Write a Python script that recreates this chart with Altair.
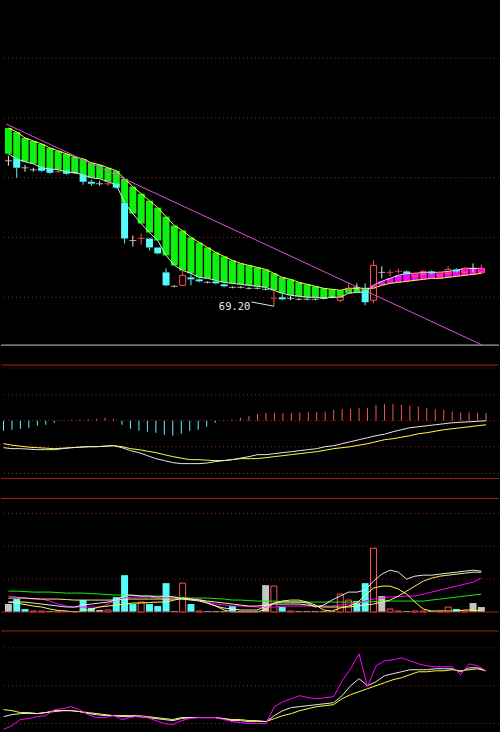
import altair as alt
import numpy as np
import pandas as pd

# ---------------- daily price bars ----------------
opens = [83.8, 84.0, 83.1, 82.9, 83.1, 83.0, 82.7, 82.8, 82.6, 82.4,
         81.7, 81.5, 81.5, 81.5, 79.6, 75.8, 76.0, 76.0, 75.1, 72.6,
         71.2, 71.3, 72.1, 71.9, 71.6, 71.7, 71.4, 71.1, 71.1, 71.0,
         71.0, 70.9, 70.0, 70.1, 70.0, 69.9, 69.9, 69.9, 70.0, 70.1,
         69.8, 71.0, 71.1, 70.8, 69.8, 72.6, 72.6, 72.7, 72.7, 72.2,
         72.4, 72.7, 72.3, 72.5, 72.9, 72.6, 73.0, 72.6]
highs = [84.3, 84.0, 83.4, 83.1, 83.3, 83.0, 82.9, 82.9, 82.7, 82.4,
         81.9, 81.8, 81.8, 81.5, 79.6, 76.3, 76.5, 76.0, 75.1, 73.0,
         71.3, 72.9, 72.4, 72.0, 71.7, 71.8, 71.5, 71.2, 71.2, 71.1,
         71.1, 71.0, 70.8, 70.4, 70.2, 70.0, 70.0, 70.0, 70.1, 70.2,
         70.2, 71.5, 71.5, 71.5, 73.8, 73.2, 72.9, 73.0, 72.8, 72.6,
         72.8, 72.8, 72.7, 73.2, 73.0, 73.1, 73.5, 73.4]
lows = [83.3, 82.1, 82.7, 82.7, 82.7, 82.5, 82.6, 82.4, 82.5, 81.4,
        81.3, 81.3, 81.3, 81.0, 75.5, 75.2, 75.4, 74.8, 74.4, 71.2,
        71.1, 71.3, 71.3, 71.6, 71.5, 71.4, 71.1, 71.0, 71.0, 70.9,
        70.9, 70.8, 69.2, 69.8, 69.8, 69.8, 69.8, 69.8, 69.9, 70.0,
        69.6, 70.6, 70.8, 69.3, 69.5, 72.0, 72.2, 72.5, 72.4, 72.1,
        72.3, 72.4, 72.2, 72.4, 72.6, 72.5, 72.6, 72.5]
closes = [83.8, 83.1, 83.1, 82.9, 82.8, 82.6, 82.7, 82.5, 82.6, 81.7,
          81.5, 81.5, 81.5, 81.1, 76.0, 75.8, 76.0, 75.1, 74.5, 71.3,
          71.2, 72.3, 71.9, 71.7, 71.6, 71.5, 71.2, 71.1, 71.1, 71.0,
          71.0, 70.9, 70.0, 69.9, 70.0, 69.9, 69.9, 69.9, 70.0, 70.1,
          70.1, 71.0, 71.1, 69.6, 73.3, 72.6, 72.6, 72.7, 72.5, 72.5,
          72.7, 72.5, 72.6, 72.9, 72.7, 73.0, 73.0, 73.0]
# d = falling, u = rising, w = flat (white), r = flat (red)
kinds = ["w", "d", "w", "w", "d", "d", "r", "d", "w", "d",
         "d", "w", "r", "d", "d", "w", "r", "d", "d", "d",
         "w", "u", "d", "d", "w", "d", "d", "w", "w", "w",
         "w", "w", "r", "d", "w", "w", "w", "w", "w", "w",
         "u", "r", "w", "d", "u", "w", "r", "r", "d", "u",
         "u", "d", "u", "u", "d", "u", "w", "u"]
ma_slow = [87.1, 86.7, 86.1, 85.8, 85.5, 85.1, 84.8, 84.5, 84.2, 84.0,
           83.6, 83.4, 83.1, 82.8, 82.0, 81.2, 80.5, 79.8, 79.1, 78.2,
           77.3, 76.8, 76.1, 75.6, 75.1, 74.6, 74.2, 73.8, 73.5, 73.3,
           73.1, 72.9, 72.5, 72.1, 71.9, 71.6, 71.4, 71.2, 71.0, 70.9,
           70.8, 71.0, 71.0, 71.0, 71.0, 71.3, 71.5, 71.6, 71.7, 71.8,
           71.9, 72.0, 72.0, 72.1, 72.2, 72.3, 72.4, 72.5]
ma_fast = [84.5, 84.0, 83.7, 83.5, 83.1, 83.0, 82.9, 82.7, 82.6, 82.4,
           82.1, 82.0, 81.7, 81.4, 79.6, 78.5, 77.5, 76.6, 75.8, 74.3,
           73.3, 72.8, 72.5, 72.1, 72.0, 71.8, 71.6, 71.5, 71.4, 71.3,
           71.2, 71.1, 70.8, 70.5, 70.3, 70.2, 70.1, 70.1, 70.0, 70.1,
           70.1, 70.5, 70.6, 70.6, 71.3, 71.7, 72.0, 72.3, 72.5, 72.5,
           72.6, 72.6, 72.6, 72.7, 72.8, 73.0, 73.0, 73.0]
# descending trend line (bar index, price)
trend_i = [-0.29, 57.12]
trend_p = [87.5, 65.3]
price_grid = [94.1, 88.1, 82.1, 76.1, 70.1]

# ---------------- MACD ----------------
dif = [-0.27, -0.28, -0.28, -0.285, -0.29, -0.29, -0.29, -0.28, -0.27, -0.265,
       -0.26, -0.26, -0.255, -0.25, -0.27, -0.30, -0.32, -0.35, -0.38, -0.40,
       -0.42, -0.43, -0.43, -0.43, -0.425, -0.41, -0.40, -0.39, -0.375, -0.36,
       -0.34, -0.34, -0.33, -0.32, -0.31, -0.30, -0.29, -0.28, -0.26, -0.25,
       -0.23, -0.21, -0.19, -0.17, -0.15, -0.135, -0.11, -0.09, -0.07, -0.06,
       -0.05, -0.04, -0.03, -0.02, -0.015, -0.01, -0.005, 0.0]
dea = [-0.23, -0.245, -0.255, -0.265, -0.27, -0.275, -0.28, -0.275, -0.27, -0.265,
       -0.26, -0.26, -0.255, -0.25, -0.26, -0.28, -0.29, -0.305, -0.32, -0.34,
       -0.36, -0.375, -0.39, -0.39, -0.395, -0.40, -0.40, -0.39, -0.38, -0.38,
       -0.38, -0.37, -0.36, -0.35, -0.34, -0.33, -0.32, -0.31, -0.295, -0.28,
       -0.27, -0.26, -0.245, -0.23, -0.21, -0.19, -0.18, -0.165, -0.15, -0.13,
       -0.12, -0.105, -0.09, -0.08, -0.07, -0.06, -0.05, -0.04]
macd_hist = [-0.10, -0.09, -0.08, -0.07, -0.05, -0.04, -0.02, 0.005, 0.01, 0.01,
             0.015, 0.02, 0.03, 0.02, -0.04, -0.08, -0.10, -0.11, -0.12, -0.14,
             -0.15, -0.13, -0.10, -0.09, -0.06, -0.02, 0.005, 0.01, 0.03, 0.05,
             0.07, 0.077, 0.077, 0.077, 0.077, 0.083, 0.087, 0.087, 0.093, 0.11,
             0.117, 0.12, 0.127, 0.127, 0.16, 0.167, 0.167, 0.16, 0.153, 0.143,
             0.127, 0.117, 0.11, 0.093, 0.083, 0.083, 0.077, 0.077]
macd_grid = [0.53, 0.26, 0.0, -0.26, -0.53]
macd_frame = [0.56, -0.58, -0.78]

# ---------------- volume ----------------
volume = [0.8, 1.3, 0.3, 0.1, 0.1, 0.1, 0.1, 0.1, 0.1, 1.2,
          0.4, 0.2, 0.2, 1.5, 3.7, 0.8, 1.0, 0.8, 0.6, 2.9,
          0.1, 2.9, 0.8, 0.1, 0.1, 0.1, 0.1, 0.6, 0.1, 0.1,
          0.1, 2.7, 2.6, 0.5, 0.1, 0.1, 0.1, 0.1, 0.1, 0.1,
          1.8, 1.2, 1.1, 2.9, 6.4, 1.6, 0.3, 0.1, 0.1, 0.1,
          0.1, 0.1, 0.1, 0.5, 0.3, 0.1, 0.9, 0.5]
vol_kinds = ["g", "d", "d", "u", "u", "d", "u", "d", "g", "d",
             "d", "g", "u", "d", "d", "d", "u", "d", "d", "d",
             "g", "u", "d", "u", "g", "d", "d", "d", "g", "g",
             "g", "g", "u", "d", "u", "g", "g", "g", "g", "g",
             "u", "u", "d", "d", "u", "g", "u", "u", "d", "u",
             "u", "d", "u", "u", "d", "u", "g", "g"]
vol_white = [1.0, 1.0, 1.0, 0.9, 0.8, 0.7, 0.6, 0.5, 0.5, 0.7,
             0.8, 0.9, 1.0, 1.2, 1.7, 1.7, 1.6, 1.6, 1.5, 1.6,
             1.5, 1.3, 1.2, 1.1, 0.9, 0.6, 0.4, 0.3, 0.2, 0.2,
             0.2, 0.6, 0.9, 1.0, 1.0, 1.0, 0.9, 0.5, 0.7, 1.2,
             1.6, 2.0, 2.0, 2.2, 3.1, 3.8, 4.2, 4.0, 3.3, 3.6,
             3.7, 3.7, 3.8, 3.9, 4.0, 4.1, 4.2, 4.1]
vol_yellow = [1.0, 0.9, 0.75, 0.6, 0.5, 0.3, 0.15, 0.1, 0.0, 0.1,
              0.3, 0.5, 0.6, 0.7, 0.8, 0.9, 0.9, 0.95, 1.0, 1.0,
              1.2, 1.4, 1.3, 1.2, 0.9, 0.6, 0.2, 0.0, 0.0, 0.0,
              0.0, 0.3, 0.9, 1.1, 1.2, 1.2, 1.0, 0.7, 0.2, 0.1,
              0.4, 0.6, 0.9, 1.7, 2.4, 2.6, 2.6, 2.3, 1.8, 1.0,
              0.3, 0.1, 0.1, 0.1, 0.1, 0.2, 0.2, 0.1]
vol_yellow_slow = [1.4, 1.4, 1.4, 1.35, 1.3, 1.3, 1.3, 1.25, 1.2, 1.2,
                   1.2, 1.2, 1.2, 1.2, 1.3, 1.3, 1.3, 1.3, 1.3, 1.3,
                   1.3, 1.3, 1.3, 1.2, 1.1, 1.0, 0.9, 0.8, 0.7, 0.6,
                   0.6, 0.7, 0.8, 0.8, 0.8, 0.8, 0.7, 0.6, 0.5, 0.5,
                   0.5, 0.5, 0.6, 0.7, 0.8, 1.0, 1.2, 1.6, 2.1, 2.6,
                   3.1, 3.4, 3.6, 3.7, 3.8, 3.9, 4.0, 4.0]
vol_magenta = [1.6, 1.5, 1.4, 1.3, 1.3, 1.1, 0.8, 0.6, 0.5, 0.5,
               0.5, 0.5, 0.8, 1.2, 1.4, 1.5, 1.5, 1.5, 1.4, 1.4,
               1.4, 1.35, 1.3, 1.3, 1.0, 0.8, 0.7, 0.6, 0.6, 0.55,
               0.5, 0.5, 0.5, 0.6, 0.6, 0.6, 0.6, 0.6, 0.6, 0.6,
               0.7, 0.8, 0.9, 1.1, 1.3, 1.4, 1.5, 1.55, 1.6, 1.6,
               1.8, 2.0, 2.2, 2.4, 2.6, 2.8, 3.0, 3.4]
vol_green = [2.1, 2.1, 2.05, 2.0, 2.0, 2.0, 1.95, 1.9, 1.9, 1.9,
             1.85, 1.8, 1.75, 1.7, 1.7, 1.65, 1.6, 1.6, 1.6, 1.6,
             1.5, 1.45, 1.4, 1.4, 1.4, 1.35, 1.3, 1.2, 1.2, 1.15,
             1.1, 1.1, 1.1, 1.05, 1.0, 1.0, 1.0, 1.0, 1.0, 1.0,
             1.0, 1.0, 1.0, 1.0, 1.05, 1.05, 1.1, 1.1, 1.1, 1.1,
             1.1, 1.2, 1.3, 1.4, 1.5, 1.6, 1.7, 1.8]
vol_grid = [9.9, 6.6, 3.3]
vol_frame = [0.0, -1.9]

# ---------------- KDJ ----------------
kdj_k = [9.2, 11.8, 13.2, 13.2, 13.2, 14.5, 17.1, 17.1, 17.1, 15.8,
         13.2, 11.8, 10.5, 10.5, 9.2, 9.2, 9.2, 7.9, 6.6, 5.3,
         3.9, 6.6, 7.9, 7.9, 7.9, 7.9, 6.6, 3.9, 3.9, 2.6,
         2.6, 2.6, 10.5, 17.1, 21.1, 22.4, 23.7, 25.0, 26.3, 27.6,
         36.8, 50.0, 59.2, 50.0, 55.3, 63.2, 65.8, 68.4, 71.1, 71.1,
         71.1, 72.4, 72.4, 72.4, 68.4, 73.7, 73.7, 69.7]
kdj_d = [18.4, 17.1, 14.5, 14.5, 13.2, 14.5, 15.8, 17.1, 17.1, 15.8,
         14.5, 13.2, 11.8, 10.5, 10.5, 10.5, 10.5, 9.2, 7.9, 6.6,
         5.3, 7.9, 7.9, 7.9, 7.9, 7.9, 6.6, 5.3, 5.3, 3.9,
         3.9, 2.6, 6.6, 10.5, 13.2, 17.1, 19.7, 22.4, 23.7, 25.0,
         32.9, 38.2, 42.1, 46.1, 50.0, 53.9, 57.9, 60.5, 64.5, 68.4,
         68.4, 69.7, 69.7, 71.1, 69.7, 71.1, 72.4, 69.7]
kdj_j = [-7.9, -2.6, 5.3, 6.6, 9.2, 10.5, 18.4, 19.7, 22.4, 18.4,
         11.8, 7.9, 7.9, 10.5, 5.3, 7.9, 10.5, 7.9, 3.9, 0.0,
         -1.3, 3.9, 6.6, 7.9, 7.9, 7.9, 5.3, 2.6, 1.3, 0.0,
         0.0, 0.0, 22.4, 28.9, 32.9, 36.8, 34.2, 32.9, 34.2, 35.5,
         56.6, 72.4, 92.1, 48.7, 76.3, 82.9, 84.2, 86.8, 82.9, 78.9,
         76.3, 75.0, 75.0, 75.0, 64.5, 78.9, 76.3, 69.7]
kdj_grid = [100, 50, 0]

# ---------------- styling ----------------
CYAN = "#54FCFC"
RED = "#FF5454"
WHITE = "#E8E8E8"
GRAY = "#C4C4C4"
YELLOW = "#FFFF40"
PALE_YELLOW = "#F4F080"
GREEN = "#10F010"
MAGENTA = "#FF00FF"
TREND = "#E050E0"
GRID = "#A01C1C"
FRAME = "#A81E1E"
W = 500

KIND_COLOR = {"d": CYAN, "u": RED, "w": WHITE, "r": RED, "g": GRAY}

n = len(closes)
idx = list(range(n))
xs = alt.Scale(domain=[-2.5 / 8.5, 497.5 / 8.5], nice=False, zero=False)
X = alt.X("i:Q", scale=xs, axis=None)
COL = alt.Color("col:N", scale=None, legend=None)


def yscale(lo, hi):
    return alt.Scale(domain=[lo, hi], nice=False, zero=False)


def hrules(values, scale, color, dash=None, width=1):
    kw = dict(color=color, strokeWidth=width)
    if dash:
        kw["strokeDash"] = dash
    return alt.Chart(pd.DataFrame({"v": values})).mark_rule(**kw).encode(
        y=alt.Y("v:Q", scale=scale, axis=None))


def series_line(df, field, scale, color, width=1):
    return alt.Chart(df).mark_line(color=color, strokeWidth=width, clip=True).encode(
        x=X, y=alt.Y(f"{field}:Q", scale=scale, axis=None))


# ---------------- price panel ----------------
ps = yscale(65.2, 99.8)
bars = pd.DataFrame(dict(i=idx, o=opens, h=highs, l=lows, c=closes, k=kinds,
                         slow=ma_slow, fast=ma_fast))
bars["top"] = bars[["o", "c"]].max(axis=1)
bars["bot"] = bars[["o", "c"]].min(axis=1)
bars["col"] = bars["k"].map(KIND_COLOR)
bars["bandcol"] = np.where(bars["fast"] > bars["slow"], MAGENTA, GREEN)

band = alt.Chart(bars).mark_bar(size=7).encode(
    x=X, y=alt.Y("slow:Q", scale=ps, axis=None), y2="fast:Q",
    color=alt.Color("bandcol:N", scale=None, legend=None))

trend = alt.Chart(pd.DataFrame({"i": trend_i, "p": trend_p})).mark_line(
    color=TREND, strokeWidth=1, clip=True).encode(x=X, y=alt.Y("p:Q", scale=ps, axis=None))

wick_hi = alt.Chart(bars).mark_rule(strokeWidth=1).encode(
    x=X, y=alt.Y("h:Q", scale=ps, axis=None), y2="top:Q", color=COL)
wick_lo = alt.Chart(bars).mark_rule(strokeWidth=1).encode(
    x=X, y=alt.Y("bot:Q", scale=ps, axis=None), y2="l:Q", color=COL)
body_dn = alt.Chart(bars).transform_filter("datum.k == 'd'").mark_bar(size=7, color=CYAN).encode(
    x=X, y=alt.Y("o:Q", scale=ps, axis=None), y2="c:Q")
body_up = alt.Chart(bars).transform_filter("datum.k == 'u'").mark_bar(
    size=6, fillOpacity=0, stroke=RED, strokeWidth=1).encode(
    x=X, y=alt.Y("o:Q", scale=ps, axis=None), y2="c:Q")
body_flat = alt.Chart(bars).transform_filter("datum.k == 'w' || datum.k == 'r'").mark_tick(
    orient="horizontal", size=7, thickness=1).encode(
    x=X, y=alt.Y("c:Q", scale=ps, axis=None), color=COL)

low_i = int(np.argmin(lows))
low_v = lows[low_i]
leader = alt.Chart(pd.DataFrame({"i": [low_i - 2.7, low_i], "p": [low_v + 0.43, low_v]})).mark_line(
    color=WHITE, strokeWidth=1).encode(x=X, y=alt.Y("p:Q", scale=ps, axis=None))
low_label = alt.Chart(pd.DataFrame({"i": [low_i - 2.85], "p": [low_v - 0.05],
                                    "t": [f"{low_v:.2f}"]})).mark_text(
    align="right", baseline="middle", font="DejaVu Sans Mono", fontSize=10.5, color=WHITE).encode(
    x=X, y=alt.Y("p:Q", scale=ps, axis=None), text="t:N")

price_panel = alt.layer(
    hrules(price_grid, ps, GRID, dash=[1, 3]),
    hrules([65.3], ps, "#C8C8C8"),
    band,
    series_line(bars, "slow", ps, YELLOW),
    series_line(bars, "fast", ps, WHITE),
    trend,
    wick_hi, wick_lo, body_dn, body_up, body_flat,
    leader, low_label,
).properties(width=W, height=346)

# ---------------- MACD panel ----------------
ms = yscale(-0.79, 0.75)
macd = pd.DataFrame(dict(i=idx, dif=dif, dea=dea, h=macd_hist))
macd["zero"] = 0.0
macd["col"] = np.where(macd["h"] >= 0, RED, CYAN)
hist = alt.Chart(macd).mark_rule(strokeWidth=1).encode(
    x=X, y=alt.Y("h:Q", scale=ms, axis=None), y2="zero:Q", color=COL)
macd_panel = alt.layer(
    hrules(macd_grid, ms, GRID, dash=[1, 3]),
    hrules(macd_frame, ms, FRAME),
    hist,
    series_line(macd, "dea", ms, YELLOW),
    series_line(macd, "dif", ms, WHITE),
).properties(width=W, height=154)

# ---------------- volume panel ----------------
vs = yscale(-2.0, 11.3)
vol = pd.DataFrame(dict(i=idx, v=volume, k=vol_kinds, w=vol_white, y1=vol_yellow,
                        y2=vol_yellow_slow, m=vol_magenta, g=vol_green))
vol["zero"] = 0.0
vol["col"] = vol["k"].map(KIND_COLOR)
vol_fill = alt.Chart(vol).transform_filter("datum.k != 'u'").mark_bar(size=7).encode(
    x=X, y=alt.Y("v:Q", scale=vs, axis=None), y2="zero:Q", color=COL)
vol_hollow = alt.Chart(vol).transform_filter("datum.k == 'u'").mark_bar(
    size=6, fillOpacity=0, stroke=RED, strokeWidth=1).encode(
    x=X, y=alt.Y("v:Q", scale=vs, axis=None), y2="zero:Q")
volume_panel = alt.layer(
    hrules(vol_grid, vs, GRID, dash=[1, 3]),
    vol_fill, vol_hollow,
    series_line(vol, "g", vs, GREEN),
    series_line(vol, "m", vs, MAGENTA),
    series_line(vol, "y2", vs, PALE_YELLOW),
    series_line(vol, "y1", vs, YELLOW),
    series_line(vol, "w", vs, WHITE),
    hrules(vol_frame, vs, FRAME),
).properties(width=W, height=133)

# ---------------- KDJ panel ----------------
ks = yscale(-9.21, 121.05)
kdj = pd.DataFrame(dict(i=idx, k=kdj_k, d=kdj_d, j=kdj_j))
kdj_panel = alt.layer(
    hrules(kdj_grid, ks, GRID, dash=[1, 3]),
    series_line(kdj, "d", ks, YELLOW),
    series_line(kdj, "k", ks, WHITE),
    series_line(kdj, "j", ks, MAGENTA),
).properties(width=W, height=99)

chart = alt.vconcat(price_panel, macd_panel, volume_panel, kdj_panel, spacing=0, padding=0).configure(
    background="#000000").configure_view(strokeWidth=0)

chart.save("out.html", embed_options={"renderer": "svg", "actions": False})
